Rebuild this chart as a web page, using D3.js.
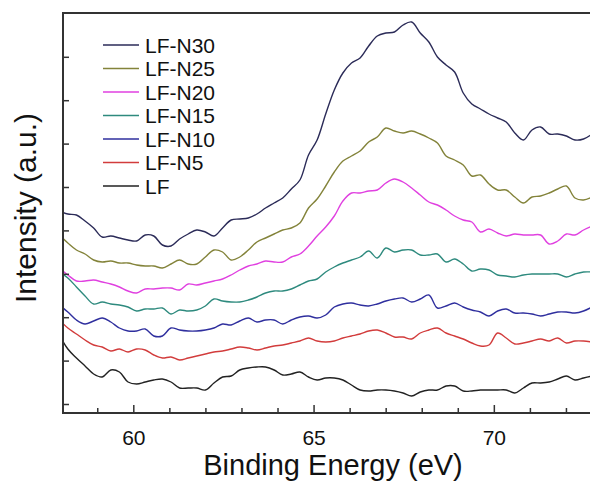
<!DOCTYPE html>
<html>
<head>
<meta charset="utf-8">
<script src="https://cdn.jsdelivr.net/npm/d3@7"></script>
<style>
  body { margin: 0; background: #fff; }
  svg { display: block; font-family: Arial, "Liberation Sans", sans-serif; }
</style>
</head>
<body>
<div id="chart"></div>
<script>
// sample grid of the spectra (eV), uniform step
const eStart = 57.946;
const eStep = 0.2384;

// series names (legend order, top to bottom)
const names = ["LF-N30", "LF-N25", "LF-N20", "LF-N15", "LF-N10", "LF-N5", "LF"];
const colors = ["#2b2b58", "#83833a", "#e040e0", "#2e8a7e", "#2f2f9e", "#d23c3c", "#222222"];

// intensities (a.u., stacked offsets as in the figure)
const lfN30 = [202,199,198,192,185,176,177,175,173,172,178,177,168,167,174,179,183,181,177,185,193,194,195,199,205,210,215,224,233,258,273,299,323,340,350,355,367,377,380,381,388,391,380,371,356,348,341,320,309,304,299,295,291,280,273,283,286,279,279,277,273,274,279];
const lfN25 = [178,170,163,159,153,151,152,150,150,148,147,147,145,149,153,149,149,156,163,161,153,156,163,171,175,179,183,185,190,205,214,227,241,252,257,262,271,276,285,282,280,282,279,275,270,257,253,248,237,238,229,223,223,216,210,216,217,220,224,227,215,213,216];
const lfN20 = [145,138,132,132,133,131,129,126,122,120,124,124,125,125,123,129,128,130,132,134,138,143,147,149,152,151,151,156,159,167,177,186,197,212,220,220,222,223,230,234,231,225,218,211,208,203,197,193,191,181,184,180,177,179,178,178,178,169,172,179,178,183,187];
const lfN15 = [141,135,126,117,109,111,109,108,106,102,104,104,105,99,103,102,103,107,114,112,111,111,113,116,120,122,122,124,128,132,134,141,146,150,153,156,162,155,165,161,163,163,158,158,159,151,154,149,142,144,143,138,137,136,138,139,139,139,139,136,139,141,141];
const lfN10 = [108,101,93,89,92,95,91,85,82,82,84,77,77,85,83,82,82,83,85,89,88,92,95,91,93,93,89,93,96,97,95,98,106,109,110,108,107,109,112,114,115,111,114,118,105,107,110,106,103,101,97,102,104,100,100,99,97,99,101,101,100,102,106];
const lfN5 = [93,85,79,73,68,66,62,64,61,64,63,58,55,56,53,55,57,59,61,62,64,66,65,63,65,67,68,70,72,75,72,71,72,75,77,79,82,83,80,76,76,74,80,83,85,80,77,74,70,67,68,80,75,69,70,72,74,72,75,70,72,72,71];
const lf = [78,64,55,47,39,36,43,41,31,29,31,33,34,31,25,25,25,23,30,36,37,43,45,46,46,43,38,39,41,36,33,35,35,33,28,23,22,23,23,22,20,17,21,23,23,27,27,22,22,23,23,23,23,20,25,30,30,31,34,37,33,35,37];

const seriesValues = [lfN30, lfN25, lfN20, lfN15, lfN10, lfN5, lf];

// axis ticks
const xMajor = [60, 65, 70];
const xMinor = [59, 61, 62, 63, 64, 66, 67, 68, 69, 71, 72];
const yTicks = [9, 52.4, 95.8, 139.2, 182.6, 226, 269.4, 312.8, 356.2];

const width = 590;
const height = 483;
const margin = { left: 63, top: 13, bottom: 70 };
const plotBottom = height - margin.bottom;

const svg = d3.select("#chart")
    .append("svg")
    .attr("width", width)
    .attr("height", height);

const x = d3.scaleLinear().domain([58.05, 73]).range([margin.left, 602]);
const y = d3.scaleLinear().domain([0, 400]).range([plotBottom, margin.top]);

svg.append("clipPath").attr("id", "plot-clip")
    .append("rect")
    .attr("x", margin.left).attr("y", margin.top)
    .attr("width", width - margin.left).attr("height", plotBottom - margin.top);

// curves
const line = d3.line()
    .x((d, i) => x(eStart + i * eStep))
    .y(d => y(d))
    .curve(d3.curveCatmullRom.alpha(0.5));

svg.append("g").attr("clip-path", "url(#plot-clip)")
    .selectAll("path")
    .data(seriesValues)
    .enter().append("path")
    .attr("d", line)
    .attr("fill", "none")
    .attr("stroke", (d, i) => colors[i])
    .attr("stroke-width", 1.4)
    .attr("stroke-linejoin", "round");

// x axis: inward ticks
const xAxisMinor = d3.axisBottom(x).tickValues(xMinor).tickSize(-5).tickFormat("");
const xAxisMajor = d3.axisBottom(x).tickValues(xMajor).tickSize(-8).tickPadding(17);

svg.append("g")
    .attr("transform", `translate(0,${plotBottom})`)
    .call(xAxisMinor)
    .call(g => g.select(".domain").remove());

const gx = svg.append("g")
    .attr("transform", `translate(0,${plotBottom})`)
    .call(xAxisMajor);
gx.select(".domain").remove();
gx.selectAll("text").attr("font-size", 21).attr("fill", "#111").attr("font-family", "Arial, 'Liberation Sans', sans-serif");

svg.selectAll(".tick line").attr("stroke", "#333").attr("stroke-width", 1.5);

// y axis: inward ticks, no labels
svg.append("g")
    .attr("transform", `translate(${margin.left},0)`)
    .call(d3.axisLeft(y).tickValues(yTicks).tickSize(-6).tickFormat(""))
    .call(g => g.select(".domain").remove())
    .selectAll(".tick line").attr("stroke", "#333").attr("stroke-width", 1.5);

// frame (right side runs past the picture edge)
svg.append("path")
    .attr("d", `M${width + 10},${margin.top}H${margin.left}V${plotBottom}H${width + 10}`)
    .attr("fill", "none")
    .attr("stroke", "#333")
    .attr("stroke-width", 2);

// axis titles
svg.append("text")
    .attr("x", 333)
    .attr("y", 475)
    .attr("text-anchor", "middle")
    .attr("font-size", 29)
    .attr("fill", "#111")
    .text("Binding Energy (eV)");

svg.append("text")
    .attr("transform", "translate(36,208) rotate(-90)")
    .attr("text-anchor", "middle")
    .attr("font-size", 30)
    .attr("fill", "#111")
    .text("Intensity (a.u.)");

// legend
const legend = svg.append("g")
    .selectAll("g")
    .data(names)
    .enter().append("g")
    .attr("transform", (d, i) => `translate(103,${45 + i * 23.5})`);

legend.append("line")
    .attr("x1", 0).attr("x2", 36)
    .attr("stroke", (d, i) => colors[i])
    .attr("stroke-width", 1.6);

legend.append("text")
    .attr("x", 42)
    .attr("y", 7.5)
    .attr("font-size", 21)
    .attr("fill", "#111")
    .text(d => d);
</script>
</body>
</html>
